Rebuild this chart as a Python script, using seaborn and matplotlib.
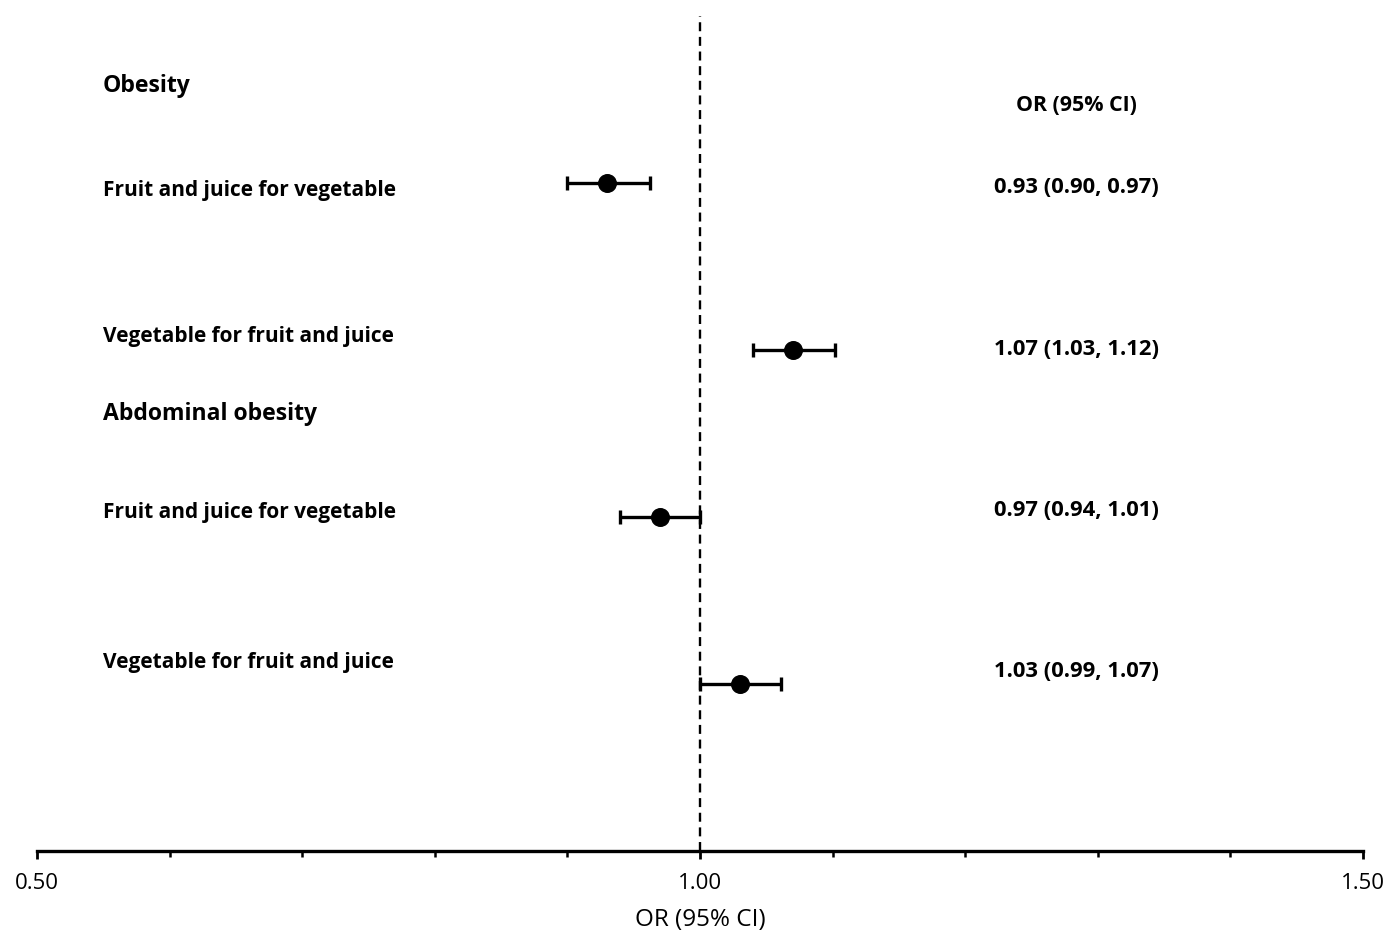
import matplotlib
matplotlib.use("Agg")
import matplotlib.pyplot as plt
import seaborn as sns
import pandas as pd
import numpy as np

# Data
outcomes = ["Obesity", "Abdominal obesity"]
comparisons = ["Fruit and juice for vegetable", "Vegetable for fruit and juice",
               "Fruit and juice for vegetable", "Vegetable for fruit and juice"]
or_values = [0.93, 1.07, 0.97, 1.03]
ci_low = [0.90, 1.04, 0.94, 1.00]
ci_high = [0.962, 1.102, 1.00, 1.061]
or_labels = ["0.93 (0.90, 0.97)", "1.07 (1.03, 1.12)", "0.97 (0.94, 1.01)", "1.03 (0.99, 1.07)"]
row_pos = [4, 3, 2, 1]
xticks_major = [0.5, 1.0, 1.5]
xtick_labels = ["0.50", "1.00", "1.50"]

df = pd.DataFrame({"comparison": comparisons, "OR": or_values, "lo": ci_low,
                   "hi": ci_high, "y": row_pos})

sns.set_style("white")
plt.rcParams['font.family'] = ['Open Sans', 'DejaVu Sans']
plt.rcParams['text.color'] = 'black'
plt.rcParams['xtick.color'] = 'black'
plt.rcParams['axes.labelcolor'] = 'black'

fig = plt.figure(figsize=(13.86, 9.33), dpi=100)
ax = fig.add_axes([37/1386, (933-851)/933, 1326/1386, 835/933])

ax.axvline(1.0, color="black", linestyle=(0, (3.8, 2.4)), linewidth=1.7, zorder=1)

ax.errorbar(df["OR"], df["y"], xerr=[df["OR"] - df["lo"], df["hi"] - df["OR"]],
            fmt="none", ecolor="black", elinewidth=2.4, capsize=5, capthick=2.4, zorder=2)
sns.scatterplot(data=df, x="OR", y="y", ax=ax, color="black", s=160,
                edgecolor="black", zorder=3, legend=False)

ax.set_xlim(0.5, 1.5)
ax.set_ylim(0, 5)
ax.set_xticks(xticks_major)
ax.set_xticklabels(xtick_labels, fontsize=16)
ax.set_xticks(np.arange(0.6, 1.5, 0.1), minor=True)
ax.tick_params(axis="x", which="both", bottom=True, direction="out", color="black")
ax.tick_params(axis="x", which="major", length=6, width=2, pad=10)
ax.tick_params(axis="x", which="minor", length=4, width=1.8)
ax.set_yticks([])
ax.set_xlabel("OR (95% CI)", fontsize=17.5, labelpad=10)
ax.set_ylabel("")
for s in ["top", "left", "right"]:
    ax.spines[s].set_visible(False)
ax.spines["bottom"].set_linewidth(2.4)
ax.spines["bottom"].set_color("black")

lab_x = 0.5498
fs = 15.0
ax.text(lab_x, 4.583, outcomes[0], fontsize=16.6, fontweight="bold", va="center", ha="left")
ax.text(lab_x, 2.618, outcomes[1], fontsize=16.6, fontweight="bold", va="center", ha="left")
comp_y = [3.955, 3.082, 2.028, 1.130]
for c, yy in zip(comparisons, comp_y):
    ax.text(lab_x, yy, c, fontsize=fs, fontweight="bold", va="center", ha="left")

col_x = 1.2836
ax.text(col_x, 4.466, "OR (95% CI)", fontsize=15.4, fontweight="bold", va="center", ha="center")
val_y = [3.975, 3.005, 2.041, 1.077]
for t, yy in zip(or_labels, val_y):
    ax.text(col_x, yy, t, fontsize=15.8, fontweight="bold", va="center", ha="center")

fig.savefig("out.png", dpi=100)
